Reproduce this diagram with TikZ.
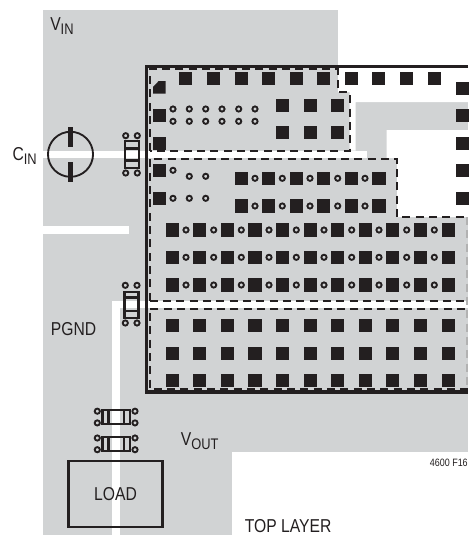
\documentclass[tikz,border=0pt]{standalone}
\usepackage{fontspec}
\setmainfont[FakeStretch=0.84]{Liberation Sans}
\definecolor{pcbgray}{HTML}{D1D3D4}
\definecolor{pcbblack}{HTML}{231F20}
\newcommand{\lowsub}[1]{\raisebox{-3.2pt}{\fontsize{11.5}{12}\selectfont #1}}
\tikzset
{
    padsq/.style = {rectangle, fill=pcbblack, inner sep=0pt, outer sep=0pt, minimum size=10pt},
    viaring/.style = {circle, draw=pcbblack, fill=pcbgray, line width=1.4pt, inner sep=0pt, outer sep=0pt, minimum size=3.9pt},
    capbox/.style = {rectangle, draw=pcbblack, line width=1.8pt, inner sep=0pt, outer sep=0pt},
    capline/.style = {draw=pcbblack, line width=1.8pt},
    boundary/.style = {draw=pcbblack, line width=1.5pt, dash pattern=on 6pt off 4pt},
    textlab/.style = {text=pcbblack, inner sep=0pt, font=\fontsize{14}{15}\selectfont},
    trace/.style = {fill=white, draw=none}
}
\begin{document}
\begin{tikzpicture}[x=0.75pt, y=-0.75pt]
	\useasboundingbox (0,0) rectangle (468,535);
	\fill [pcbgray] (43,10) rectangle (468,535);

	\fill [trace] (338,10) -- (468,10) -- (468,102) -- (355.7,102) -- (355.7,150.5) -- (349.5,150.5) -- (349.5,92) -- (338,92) -- cycle;
	\fill [trace] (386.7,130) -- (468,130) -- (468,217) -- (397,217) -- (397,158) -- (386.7,158) -- cycle;
	\fill [trace] (43,150.5) rectangle (366.7,158);
	\fill [trace] (43,226) rectangle (129,234);
	\fill [trace] (112,301) rectangle (120,535);
	\fill [trace] (112,301) rectangle (468,308);
	\fill [trace] (232,452) rectangle (468,535);

	\draw [pcbblack, line width=2.4pt] (468,66.5) -- (146.5,66.5) -- (146.5,392) -- (468,392);

	\draw [boundary] (149.5,150.5) -- (149.5,69.5) -- (338,69.5) -- (338,92) -- (349.5,92) -- (349.5,150.5) -- cycle;
	\draw [boundary] (149.5,300.5) -- (149.5,158.5) -- (397,158.5) -- (397,217) -- (468,217);
	\draw [boundary] (149.5,300.5) -- (464,300.5);
	\draw [boundary] (465,308.5) -- (149.5,308.5) -- (149.5,388.7) -- (468,388.7);
	\draw [boundary, draw=gray!60] (467,217) -- (467,388);

	\foreach \px [count=\i] in {185.3,213.3,241.3,268.3,296.3,323.3,351.3,378.3,406.3,434.3}
		\node (top\i) [padsq] at (\px,78.3) {};
	\foreach \py [count=\i] in {88.3,115.3,143.3,170.3,198.3}
		\node (side\i) [padsq] at (462.3,\py) {};
	\foreach \py [count=\i] in {115.3,143.3,170.3,198.3}
		\node (left\i) [padsq] at (159.3,\py) {};
	\foreach \px [count=\i] in {282.3,310.3,337.3}
		\foreach \py [count=\j] in {105.3,132.3}
			\node (upper\i\j) [padsq] at (\px,\py) {};
	\foreach \px [count=\i] in {241.3,268.3,296.3,323.3,351.3,379}
		\foreach \py [count=\j] in {178.3,206}
			\node (mid\i\j) [padsq] at (\px,\py) {};
	\foreach \px [count=\i] in {172.3,199.3,227.3,255,282.3,310.3,337.3,365.3,392.7,420.3,448.3}
		\foreach \py [count=\j] in {230,257.3,285,325.3,353.3,380.3}
			\node (row\i\j) [padsq] at (\px,\py) {};
	\fill [pcbblack] (153,93.5) -- (153,87) -- (158.5,81.2) -- (165.5,81.2) -- (165.5,93.5) -- cycle;

	\foreach \px [count=\i] in {173,189.3,205.7,222,238.7,255}
		\foreach \py [count=\j] in {109,121.3}
			\node (via\i\j) [viaring] at (\px,\py) {};
	\foreach \px [count=\i] in {255,282.3,310,337.7,365}
		\foreach \py [count=\j] in {178.3,206}
			\node (midvia\i\j) [viaring] at (\px,\py) {};
	\foreach \px [count=\i] in {186,213.7,241.3,269,296.3,324,351.7,379,406.7,434.3}
		\foreach \py [count=\j] in {230,257.3,285}
			\node (rowvia\i\j) [viaring] at (\px,\py) {};
	\node (va) [viaring] at (173,170.3) {};
	\node (vb) [viaring] at (189.3,176.3) {};
	\node (vc) [viaring] at (205.7,176.3) {};
	\node (vd) [viaring] at (173,198.3) {};
	\node (ve) [viaring] at (189.3,198.3) {};
	\node (vf) [viaring] at (205.7,198.3) {};

	\node (cin) [circle, draw=pcbblack, line width=1.4pt, minimum size=33.8pt, inner sep=0pt] at (70.5,154.3) {};
	\fill [pcbblack] (68,127) rectangle (73,146.7);
	\fill [pcbblack] (68,162.3) rectangle (73,181.7);

	\node (capa) [capbox, minimum width=10.5pt, minimum height=20.5pt] at (132,154.5) {};
	\draw [capline] (125,148.3) -- (139,148.3);
	\draw [capline] (125,160.5) -- (139,160.5);
	\foreach \px [count=\i] in {125.7,137.3}
		\foreach \py [count=\j] in {135.7,173}
			\node (capav\i\j) [viaring] at (\px,\py) {};

	\node (capb) [capbox, minimum width=10.5pt, minimum height=19.5pt] at (131.5,304.7) {};
	\draw [capline] (124.5,297.3) -- (138.5,297.3);
	\draw [capline] (124.5,311) -- (138.5,311);
	\foreach \px [count=\i] in {125.3,137}
		\foreach \py [count=\j] in {285.3,323}
			\node (capbv\i\j) [viaring] at (\px,\py) {};

	\foreach \py [count=\j] in {417,443.8}
	{
		\node (capc\j) [capbox, minimum width=20.5pt, minimum height=10.5pt] at (116.2,\py) {};
		\draw [capline] (108.3,\py-7) -- (108.3,\py+7);
		\draw [capline] (123.7,\py-7) -- (123.7,\py+7);
		\foreach \px [count=\i] in {97.3,135}
		{
			\node (capcu\i\j) [viaring] at (\px,\py-5.8) {};
			\node (capcd\i\j) [viaring] at (\px,\py+5.9) {};
		}
	}

	\node (load) [rectangle, draw=pcbblack, line width=1.8pt, minimum width=70.5pt, minimum height=49.5pt, inner sep=0pt, textlab] at (115.5,493.7) {LOAD};

	\node (vin) [textlab, anchor=base west] at (50,30.7) {V\lowsub{IN}};
	\node (cinlab) [textlab, anchor=base west] at (12.3,160.7) {C\lowsub{IN}};
	\node (pgnd) [textlab, anchor=base west] at (50.7,335) {PGND};
	\node (vout) [textlab, anchor=base west] at (180.7,445) {V\lowsub{OUT}};
	\node (fig) [textlab, anchor=base east, font=\fontsize{8}{9}\selectfont] at (468,466) {4600 F16};
	\node (toplayer) [textlab, anchor=base west] at (244.5,532.5) {TOP LAYER};
\end{tikzpicture}
\end{document}
